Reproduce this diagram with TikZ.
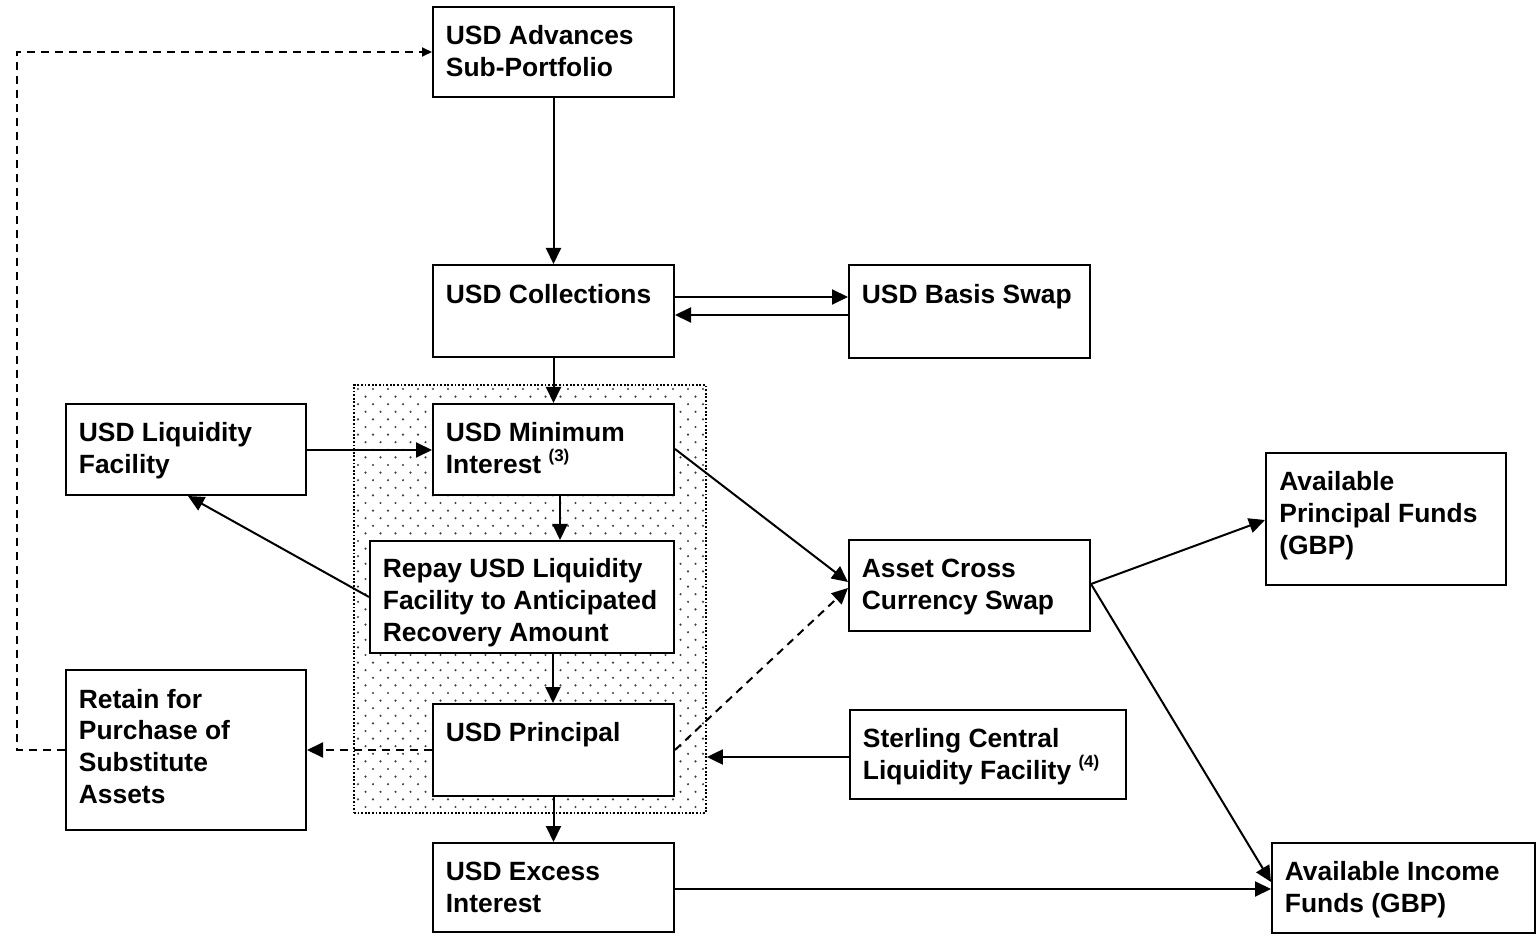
\documentclass[tikz,border=0pt]{standalone}
\usepackage{fontspec}
\setmainfont{Liberation Sans}
\usetikzlibrary{arrows.meta,fit}
\newcommand\fnref[1]{\smash{\raisebox{0.45em}{\fontsize{8.5}{8.5}\selectfont(#1)}}}
\begin{document}
\begin{tikzpicture}[x=0.5pt,y=-0.5pt,
  box/.style={draw, line width=1pt, fill=white, inner sep=0pt},
  txt/.style={anchor=north west, inner sep=0pt, align=left,
              font=\fontsize{13.2}{15.9}\selectfont\bfseries},
  arr/.style={line width=1pt, -{Triangle[length=8pt,width=7.5pt]}},
  darr/.style={arr, dash pattern=on 4pt off 3pt},
  sdarr/.style={line width=1pt, dash pattern=on 4pt off 3pt, -{Triangle[length=5pt,width=4.5pt]}},
  regbox/.style={draw, line width=0.9pt, dash pattern=on 0.9pt off 0.9pt, inner sep=0pt},
]
\useasboundingbox (0,0) rectangle (1539,936);

% dotted shaded region
\begin{scope}
  \clip (354,385) rectangle (706,813);
  \foreach \r in {0,...,56}{
    \pgfmathsetmacro\yy{389+\r*7.6}
    \pgfmathsetmacro\xo{mod(\r,2)*7.5}
    \foreach \c in {0,...,24}{
      \fill[black!75] (358+\xo+\c*15,\yy) circle[radius=0.6pt];
    }
  }
\end{scope}
\node[regbox, fit={(354,385) (706,813)}] (reg) {};

% boxes
\node[box, fit={(433,7) (674,97)}] (adv) {};
\node[box, fit={(433,265) (674,357)}] (col) {};
\node[box, fit={(849,265) (1090,358)}] (bas) {};
\node[box, fit={(66,404) (306,495)}] (liq) {};
\node[box, fit={(433,404) (674,495)}] (mini) {};
\node[box, fit={(370,541) (674,653)}] (rep) {};
\node[box, fit={(433,704) (674,796)}] (pri) {};
\node[box, fit={(66,670) (306,830)}] (ret) {};
\node[box, fit={(849,540) (1090,631)}] (acs) {};
\node[box, fit={(850,710) (1126,799)}] (ster) {};
\node[box, fit={(1266,453) (1506,585)}] (apf) {};
\node[box, fit={(1272,843) (1535,933)}] (inc) {};
\node[box, fit={(433,843) (674,932)}] (exc) {};

% texts
\node[txt] (advt) at ([shift={(13.5,16)}]adv.north west) {\strut USD Advances\\Sub-Portfolio};
\node[txt] (colt) at ([shift={(13.5,16.5)}]col.north west) {\strut USD Collections};
\node[txt] (bast) at ([shift={(13.5,16.5)}]bas.north west) {\strut USD Basis Swap};
\node[txt] (liqt) at ([shift={(13.5,16)}]liq.north west) {\strut USD Liquidity\\Facility};
\node[txt] (minit) at ([shift={(13.5,16)}]mini.north west) {\strut USD Minimum\\Interest \fnref{3}};
\node[txt] (rept) at ([shift={(13.5,15)}]rep.north west) {\strut Repay USD Liquidity\\Facility to Anticipated\\Recovery Amount};
\node[txt] (prit) at ([shift={(13.5,16)}]pri.north west) {\strut USD Principal};
\node[txt] (rett) at ([shift={(13.5,16.5)}]ret.north west) {\strut Retain for\\Purchase of\\Substitute\\Assets};
\node[txt] (acst) at ([shift={(13.5,16)}]acs.north west) {\strut Asset Cross\\Currency Swap};
\node[txt] (stert) at ([shift={(13.5,16)}]ster.north west) {\strut Sterling Central\\Liquidity Facility \fnref{4}};
\node[txt] (apft) at ([shift={(14,16)}]apf.north west) {\strut Available\\Principal Funds\\(GBP)};
\node[txt] (inct) at ([shift={(13.5,16)}]inc.north west) {\strut Available Income\\Funds (GBP)};
\node[txt] (exct) at ([shift={(13.5,16)}]exc.north west) {\strut USD Excess\\Interest};

% connectors
\draw[arr] (adv.south) -- (col.north);
\draw[arr] (col.east |- 0,297) -- (bas.west |- 0,297);
\draw[arr] (bas.west |- 0,315) -- (col.east |- 0,315);
\draw[arr] (col.south) -- (mini.north);
\draw[arr] (liq.east |- 0,450) -- (mini.west |- 0,450);
\draw[arr] (mini.south -| 560,0) -- (rep.north -| 560,0);
\draw[arr] (rep.west |- 0,597) -- (liq.south -| 188,0);
\draw[arr] (mini.east |- 0,449) -- (acs.west |- 0,582);
\draw[arr] (rep.south -| 553,0) -- (pri.north -| 553,0);
\draw[darr] (pri.west |- 0,750) -- (ret.east |- 0,750);
\draw[darr] (pri.east |- 0,750) -- (acs.west |- 0,588);
\draw[arr] (ster.west |- 0,757) -- (reg.east |- 0,757);
\draw[arr] (pri.south) -- (exc.north);
\draw[arr] (exc.east |- 0,889) -- (inc.west |- 0,889);
\draw[arr] (acs.east |- 0,584) -- (apf.west |- 0,520);
\draw[arr] (acs.east |- 0,584) -- (inc.west |- 0,882);
\draw[sdarr] (ret.west |- 0,750) -- ++(-48,0) |- (adv.west |- 0,52);
\end{tikzpicture}
\end{document}
